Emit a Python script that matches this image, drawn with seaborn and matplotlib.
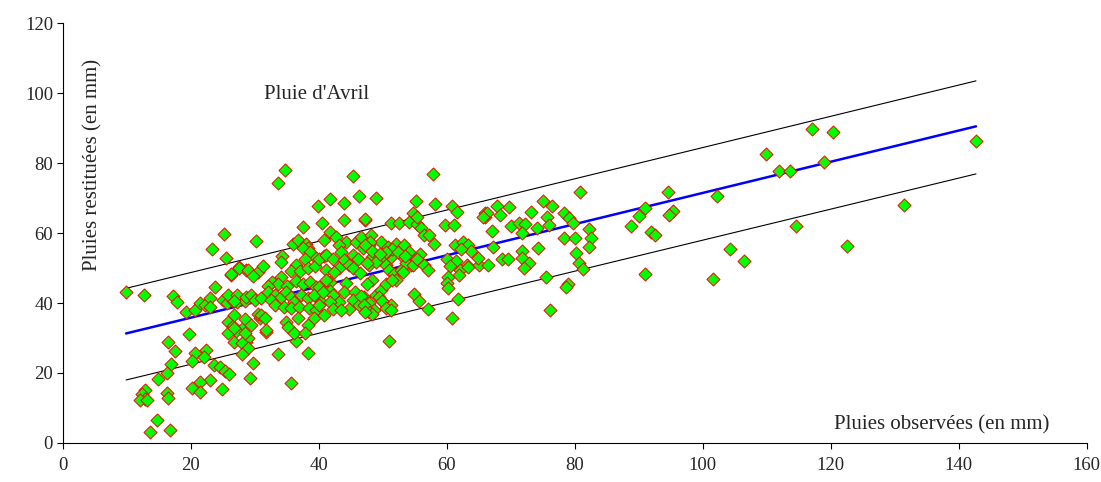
import matplotlib
matplotlib.use('Agg')
import matplotlib.pyplot as plt
import pandas as pd
import seaborn as sns

obs_x = [
    9.9, 12.7, 25.2, 23.3, 25.5, 26.3, 27.5, 28.7, 23.8, 17.2,
    17.8, 19.2, 20.7, 21.4, 22.2, 23.0, 23.0, 25.0, 25.6, 26.6,
    27.3, 28.4, 25.8, 26.6, 27.0, 25.8, 19.7, 16.5, 17.6, 26.8,
    28.6, 20.6, 22.4, 20.2, 22.0, 16.9, 16.3, 14.9, 23.7, 24.6,
    25.3, 26.0, 23.0, 21.4, 20.2, 21.4, 24.9, 12.9, 12.4, 12.8,
    12.0, 13.2, 16.3, 16.4, 14.8, 13.7, 16.7,
    34.7, 33.6, 45.3, 46.3, 41.8, 44.0, 39.9, 40.5, 44.0, 47.2,
    30.2, 37.6, 36.4, 33.7, 38.3, 35.7, 29.2, 29.7, 31.8, 28.4,
    29.0, 28.0, 29.0, 28.0, 28.5, 30.8,
    35.9, 36.8, 38.0, 38.3, 37.5, 38.7, 34.2, 34.1, 39.6, 40.9,
    37.8, 36.5, 35.7, 37.0, 38.3, 39.4, 27.5, 29.0, 30.5, 31.3,
    29.8, 26.3, 34.1, 32.7, 33.7, 35.1, 32.0, 36.5, 37.5, 38.6,
    39.6, 40.9, 41.7, 41.7,
    25.8, 27.3, 26.8, 28.7, 29.4, 30.0, 31.0, 32.0, 33.1, 32.6,
    34.1, 34.9, 35.7, 36.2, 37.2, 38.3, 39.3, 40.4,
    33.1, 34.5, 35.7, 36.9, 38.5, 39.6,
    26.8, 30.5, 31.0, 31.6, 34.9, 36.7, 39.3, 38.3,
    29.4, 31.8, 26.8, 28.4, 35.2, 36.2, 37.8,
    51.3, 52.6, 54.1, 55.4,
    41.7, 42.7, 40.9, 44.3, 43.2, 45.8, 46.6, 48.2, 47.9, 46.9,
    49.7, 50.8, 52.1, 53.4, 54.1, 52.8, 51.3, 50.2, 49.5, 48.4, 54.9, 54.4,
    40.1, 41.1, 42.2, 43.5, 44.0, 45.3, 46.1, 44.8, 43.2, 41.1, 42.4, 45.3,
    47.9, 48.9, 50.5, 51.0, 51.8, 52.8, 52.1, 53.6, 54.7, 48.4,
    44.3, 41.1, 40.1, 40.6, 42.2, 44.0, 45.6, 47.1, 47.9, 45.3, 43.2, 41.7,
    44.8, 40.1, 42.2, 43.5, 40.9, 48.9, 49.7, 50.2, 51.3, 48.7, 47.9, 46.3,
    57.9, 48.9, 55.2, 58.2, 60.9, 61.6, 66.0, 66.0, 47.3, 54.7, 55.4,
    59.7, 61.2, 56.0, 56.5, 57.3, 58.0,
    48.0, 47.3, 48.4,
    51.5, 50.5, 52.4, 53.5, 49.5,
    55.9, 55.3, 56.4, 57.0,
    61.3, 62.5, 63.3, 63.8, 62.2,
    60.0, 61.5, 63.2, 62.0, 60.5, 65.0,
    63.3, 61.9,
    47.5, 46.5, 47.5, 50.5, 51.5, 53.2,
    60.2, 60.0, 60.2,
    46.6, 47.0, 49.4, 49.9, 50.5, 51.3, 48.3, 47.3,
    54.9, 55.7, 57.0, 61.8, 60.8, 51.0,
    80.8, 75.0, 76.4, 78.3, 79.1, 79.8, 73.2, 75.6, 76.0,
    69.7, 67.8, 68.4, 66.3, 65.6,
    70.0, 71.3, 72.3, 71.8, 74.1, 67.0,
    82.2, 82.6, 82.3, 78.3, 80.1, 67.3, 74.2, 80.2,
    66.5, 68.7, 69.6, 71.8, 71.7, 72.9, 72.1, 80.7, 81.3, 64.9,
    75.5, 79.0, 78.6, 76.1,
    117.0, 120.4, 109.9, 111.9, 113.6, 119.0, 94.6, 102.3, 91.0, 90.1,
    88.8, 95.3, 94.7, 91.9, 92.5, 114.6, 122.5, 104.3, 106.4, 91.0,
    101.6, 142.7, 131.4,
]
rest_y = [
    43.2, 42.3, 59.7, 55.3, 52.8, 48.0, 50.2, 49.5, 44.7, 42.0,
    40.4, 37.3, 38.0, 39.9, 39.3, 41.3, 39.0, 41.0, 40.0, 40.6,
    40.2, 40.5, 34.7, 33.3, 32.0, 31.5, 31.1, 28.9, 26.4, 28.9,
    28.9, 25.8, 26.6, 23.5, 24.5, 22.6, 19.9, 18.3, 22.3, 21.6,
    20.6, 19.8, 18.0, 17.3, 15.6, 14.6, 15.4, 15.1, 14.0, 12.6,
    12.3, 12.4, 14.2, 12.8, 6.6, 3.2, 3.7,
    78.0, 74.2, 76.3, 70.6, 69.7, 68.5, 67.7, 62.9, 63.7, 63.7,
    57.8, 61.8, 29.2, 25.4, 25.6, 17.2, 18.7, 22.8, 31.8, 33.5,
    30.0, 28.5, 27.0, 25.5, 35.5, 35.6,
    57.0, 58.0, 57.0, 55.6, 55.6, 54.7, 53.5, 51.8, 53.0, 53.3,
    52.5, 51.0, 49.1, 49.1, 50.0, 50.5, 49.9, 49.4, 49.0, 50.5,
    47.6, 48.2, 47.4, 46.0, 45.5, 45.0, 45.0, 46.4, 45.5, 46.0,
    44.5, 45.0, 46.0, 43.3,
    42.3, 42.3, 40.6, 41.8, 42.3, 40.9, 41.3, 43.2, 42.3, 40.9,
    41.8, 43.2, 41.8, 40.4, 42.3, 41.3, 42.3, 40.4,
    39.4, 38.9, 38.5, 38.9, 38.5, 38.0,
    36.6, 37.0, 36.6, 35.6, 34.7, 35.6, 35.6, 33.7,
    33.7, 32.3, 32.8, 31.3, 33.2, 31.3, 31.3,
    63.0, 63.0, 63.2, 62.7,
    60.3, 58.9, 58.0, 57.5, 56.5, 57.5, 58.9, 59.4, 56.5, 55.6,
    57.5, 56.1, 57.0, 56.5, 54.6, 53.7, 53.2, 53.7, 52.7, 53.2, 52.2, 50.8,
    52.7, 53.7, 52.7, 54.6, 52.2, 53.7, 52.7, 50.8, 49.9, 49.4, 48.9, 49.9,
    50.8, 51.8, 50.8, 49.4, 48.4, 49.4, 46.5, 51.3, 50.8, 46.5,
    45.6, 46.5, 44.6, 43.2, 42.2, 43.2, 43.2, 41.8, 39.9, 40.8, 40.3, 40.3,
    38.4, 39.4, 38.4, 38.0, 36.5, 42.2, 43.7, 39.9, 39.4, 38.0, 37.5, 39.4,
    76.9, 69.9, 69.2, 68.3, 67.7, 66.1, 65.7, 64.5, 63.9, 65.8, 64.7,
    62.3, 62.3, 61.5, 59.5, 59.5, 57.0,
    57.5, 56.5, 55.0,
    55.5, 54.5, 54.5, 53.5, 54.0,
    54.0, 52.5, 51.0, 49.5,
    56.5, 57.5, 56.5, 55.0, 55.5,
    52.5, 52.0, 51.0, 49.5, 50.5, 51.0,
    50.2, 48.0,
    51.5, 48.5, 45.5, 45.5, 46.5, 49.0,
    47.5, 45.7, 44.2,
    42.0, 39.5, 41.8, 40.5, 38.5, 38.0, 37.0, 37.5,
    42.6, 40.7, 38.2, 41.1, 35.6, 29.1,
    71.8, 69.2, 67.8, 65.6, 64.2, 63.0, 66.1, 64.7, 62.3,
    67.5, 67.7, 65.3, 65.6, 64.7,
    62.0, 63.0, 62.6, 60.1, 61.3, 60.6,
    61.1, 58.5, 56.1, 58.5, 58.5, 56.1, 55.8, 54.4,
    51.0, 52.6, 52.6, 54.9, 52.9, 51.3, 50.1, 51.3, 49.7, 52.9,
    47.5, 45.4, 44.5, 38.0,
    89.8, 88.9, 82.6, 77.7, 77.7, 80.2, 71.7, 70.7, 67.1, 64.9,
    62.0, 66.4, 65.1, 60.4, 59.4, 61.9, 56.3, 55.4, 52.0, 48.2,
    46.9, 86.4, 68.0,
]

# Regression line and its two bounds (end points)
line_x = [9.9, 142.7]
fit_y = [31.3, 90.5]
upper_y = [44.2, 103.5]
lower_y = [18.0, 76.9]

x_ticks = [0, 20, 40, 60, 80, 100, 120, 140, 160]
y_ticks = [0, 20, 40, 60, 80, 100, 120]

df = pd.DataFrame({'obs': obs_x, 'rest': rest_y})

sns.set_style('ticks')
plt.rcParams['font.family'] = ['Liberation Serif', 'DejaVu Serif']

fig, ax = plt.subplots(figsize=(11.01, 4.82), dpi=100)
fig.subplots_adjust(left=0.057, right=0.987, bottom=0.081, top=0.952)

# Bounds and fitted line
sns.lineplot(x=line_x, y=upper_y, ax=ax, color='black', linewidth=0.8)
sns.lineplot(x=line_x, y=lower_y, ax=ax, color='black', linewidth=0.8)
sns.lineplot(x=line_x, y=fit_y, ax=ax, color='#0000FF', linewidth=1.8)

# Scatter
sns.scatterplot(data=df, x='obs', y='rest', ax=ax, marker='D', s=44,
                color='#00FF00', edgecolor='#FF0000', linewidth=0.7, zorder=3)

ax.set_xlim(0, 160)
ax.set_ylim(0, 120)
ax.set_xticks(x_ticks)
ax.set_yticks(y_ticks)
ax.tick_params(axis='both', labelsize=13.5, length=4, width=0.8, color='black')
ax.tick_params(axis='x', pad=6)
ax.tick_params(axis='y', pad=3)
ax.set_xlabel('')
ax.set_ylabel('')
sns.despine(ax=ax)
for sp in ['left', 'bottom']:
    ax.spines[sp].set_linewidth(0.8)
    ax.spines[sp].set_color('black')

# Labels placed inside the plot area
ax.text(31.4, 99.7, "Pluie d'Avril", fontsize=15, ha='left', va='center')
ax.text(4.7, 79.4, 'Pluies restituées (en mm)', fontsize=15, rotation=90,
        ha='center', va='center')
ax.text(137.4, 5.1, 'Pluies observées (en mm)', fontsize=15, ha='center', va='center')

fig.savefig('out.png', dpi=100)
